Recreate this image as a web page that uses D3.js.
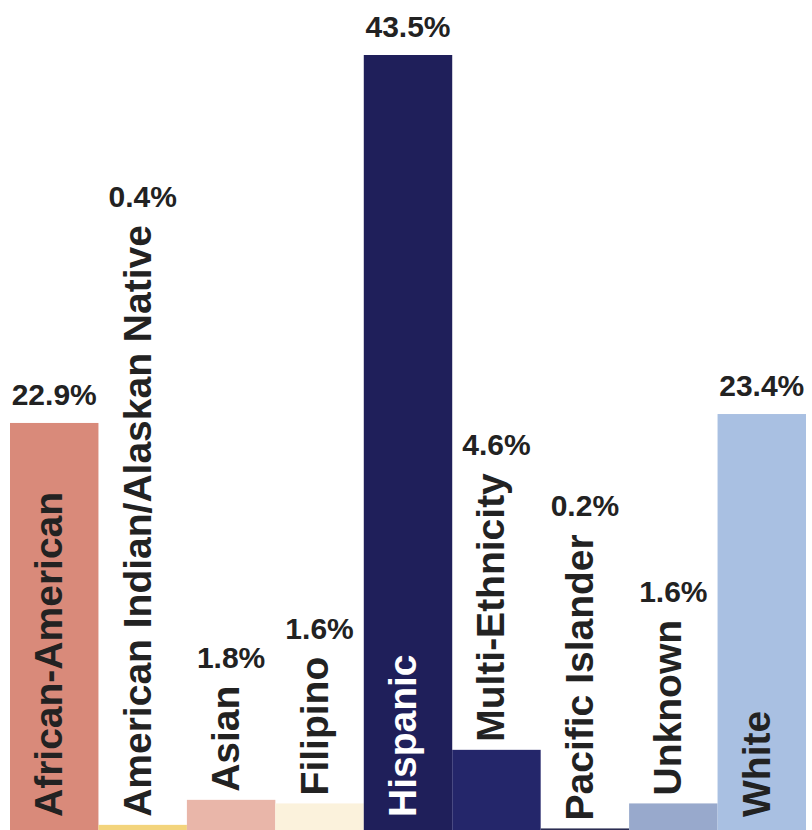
<!DOCTYPE html>
<meta charset="utf-8">
<style>
body { margin: 0; background: #fff; }
text { font-family: "Liberation Sans", Arial, sans-serif; font-weight: bold; }
</style>
<body>
  <div class="chart"></div>
</body>
<script src="https://cdn.jsdelivr.net/npm/d3@7"></script>
<script>

var groups = ["African-American", "American Indian/Alaskan Native", "Asian", "Filipino",
              "Hispanic", "Multi-Ethnicity", "Pacific Islander", "Unknown", "White"];
var percents = [22.9, 0.4, 1.8, 1.6, 43.5, 4.6, 0.2, 1.6, 23.4];
var colors = ["#d98a7a", "#f3d47c", "#e9b6a9", "#fbf2dc", "#1f1f5a",
              "#24266a", "#2b2d52", "#98a9cc", "#a9c0e2"];

var width = 812, height = 830;

var svg = d3.select(".chart")
    .append("svg")
    .attr("width", width)
    .attr("height", height);

var x = d3.scaleBand()
    .domain(groups)
    .range([10, 806])
    .padding(0);

var y = d3.scaleLinear()
    .domain([0, 43.5])
    .range([832, 55]);

var data = groups.map(function(g, i) {
    return { name: g, value: percents[i], color: colors[i] };
});

var node = svg.selectAll(".bar")
    .data(data)
    .enter()
    .append("g")
    .attr("class", "bar");

node.append("rect")
    .attr("x", function(d) { return x(d.name); })
    .attr("width", x.bandwidth())
    .attr("y", function(d) { return y(d.value); })
    .attr("height", function(d) { return y(0) - y(d.value); })
    .style("fill", function(d) { return d.color; });

// rotated category labels: inside tall bars, just above short ones
node.each(function(d) {
    var g = d3.select(this);
    var cx = x(d.name) + x.bandwidth() / 2;
    var top = y(d.value);

    var label = g.append("text")
        .style("font-size", "39px")
        .style("fill", d.name === "Hispanic" ? "#fff" : "#222")
        .text(d.name);

    var len = label.node().getComputedTextLength();
    var inside = top < 817 - len - 10;
    var start = inside ? 817 : top - 8;
    label.attr("transform", "translate(" + (cx + 8) + "," + start + ") rotate(-90)");

    var valueY = (inside ? top : start - len) - 18;

    g.append("text")
        .attr("x", cx)
        .attr("y", valueY)
        .style("text-anchor", "middle")
        .style("font-size", "30px")
        .style("fill", "#222")
        .text(d.value.toFixed(1) + "%");
});

</script>
